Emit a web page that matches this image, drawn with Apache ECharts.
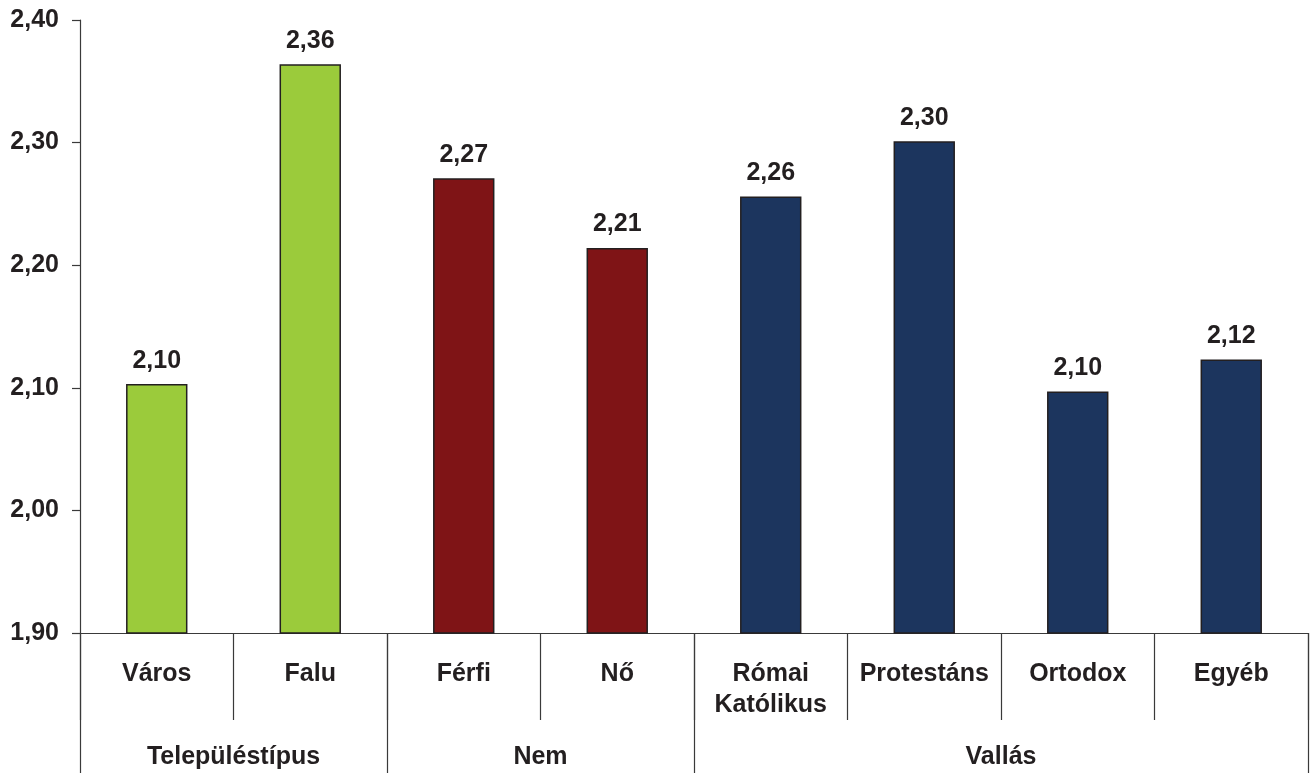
<!DOCTYPE html>
<html>
<head>
<meta charset="utf-8">
<script src="https://cdn.jsdelivr.net/npm/echarts@6/dist/echarts.min.js"></script>
<style>
html,body{margin:0;padding:0;background:#fff;}
#chart{width:1312px;height:773px;}
</style>
</head>
<body>
<div id="chart"></div>
<script>
// ---- data ----
const categories = ['Város', 'Falu', 'Férfi', 'Nő', 'Római\nKatólikus', 'Protestáns', 'Ortodox', 'Egyéb'];
const values = [2.103, 2.364, 2.271, 2.214, 2.256, 2.301, 2.097, 2.123];
const groupNames = ['Településtípus', 'Nem', 'Vallás'];
const groupSizes = [2, 2, 4];
const groupColors = ['#9BCB3B', '#7F1416', '#1C355E'];
const yTicks = { min: 1.9, max: 2.4, interval: 0.1 };

// ---- derived ----
const barColors = [];
groupSizes.forEach((n, g) => { for (let i = 0; i < n; i++) barColors.push(groupColors[g]); });

// half-slot axis (boundaryGap false) for group labels / group separators
const halfSlots = new Array(categories.length * 2 + 1).fill('');
const groupLabelIdx = [];
const groupBoundIdx = [0];
let pos = 0;
groupSizes.forEach((n, g) => {
  const centre = pos * 2 + n;
  halfSlots[centre] = groupNames[g];
  groupLabelIdx.push(centre);
  pos += n;
  groupBoundIdx.push(pos * 2);
});

const fmt = v => v.toFixed(2).replace('.', ',');
const textColor = '#231F20';
const axisColor = '#3a3a3a';
const font = { fontFamily: 'Liberation Sans, Arial, sans-serif', fontWeight: 'bold', fontSize: 25, color: textColor };

const chart = echarts.init(document.getElementById('chart'), null, { renderer: 'canvas' });
chart.setOption({
  animation: false,
  backgroundColor: '#fff',
  grid: { left: 80, right: 4, top: 20, bottom: 140, containLabel: false },
  xAxis: [
    {
      type: 'category',
      data: categories,
      position: 'bottom',
      axisLine: { show: true, lineStyle: { color: axisColor, width: 1.2 } },
      axisTick: { show: true, length: 87, alignWithLabel: false, lineStyle: { color: axisColor, width: 1.2 } },
      axisLabel: Object.assign({ margin: 26, lineHeight: 31, interval: 0 }, font)
    },
    {
      type: 'category',
      data: halfSlots,
      boundaryGap: false,
      position: 'bottom',
      axisLine: { show: false },
      axisTick: {
        show: true, length: 140,
        interval: (i) => groupBoundIdx.indexOf(i) >= 0,
        lineStyle: { color: axisColor, width: 1.2 }
      },
      axisLabel: Object.assign({ margin: 112, interval: (i) => groupLabelIdx.indexOf(i) >= 0 }, font)
    }
  ],
  yAxis: {
    type: 'value',
    min: yTicks.min, max: yTicks.max, interval: yTicks.interval,
    axisLine: { show: true, lineStyle: { color: axisColor, width: 1.2 } },
    axisTick: { show: true, length: 8, inside: false, lineStyle: { color: axisColor, width: 1.2 } },
    splitLine: { show: false },
    axisLabel: Object.assign({ margin: 21, formatter: fmt }, font)
  },
  series: [{
    type: 'bar',
    xAxisIndex: 0,
    barWidth: '40%',
    data: values.map((v, i) => ({ value: v, itemStyle: { color: barColors[i] } })),
    itemStyle: { borderColor: '#231F20', borderWidth: 1.5 },
    label: Object.assign({ show: true, position: 'top', distance: 11, formatter: p => fmt(p.value) }, font)
  }]
});
</script>
</body>
</html>
